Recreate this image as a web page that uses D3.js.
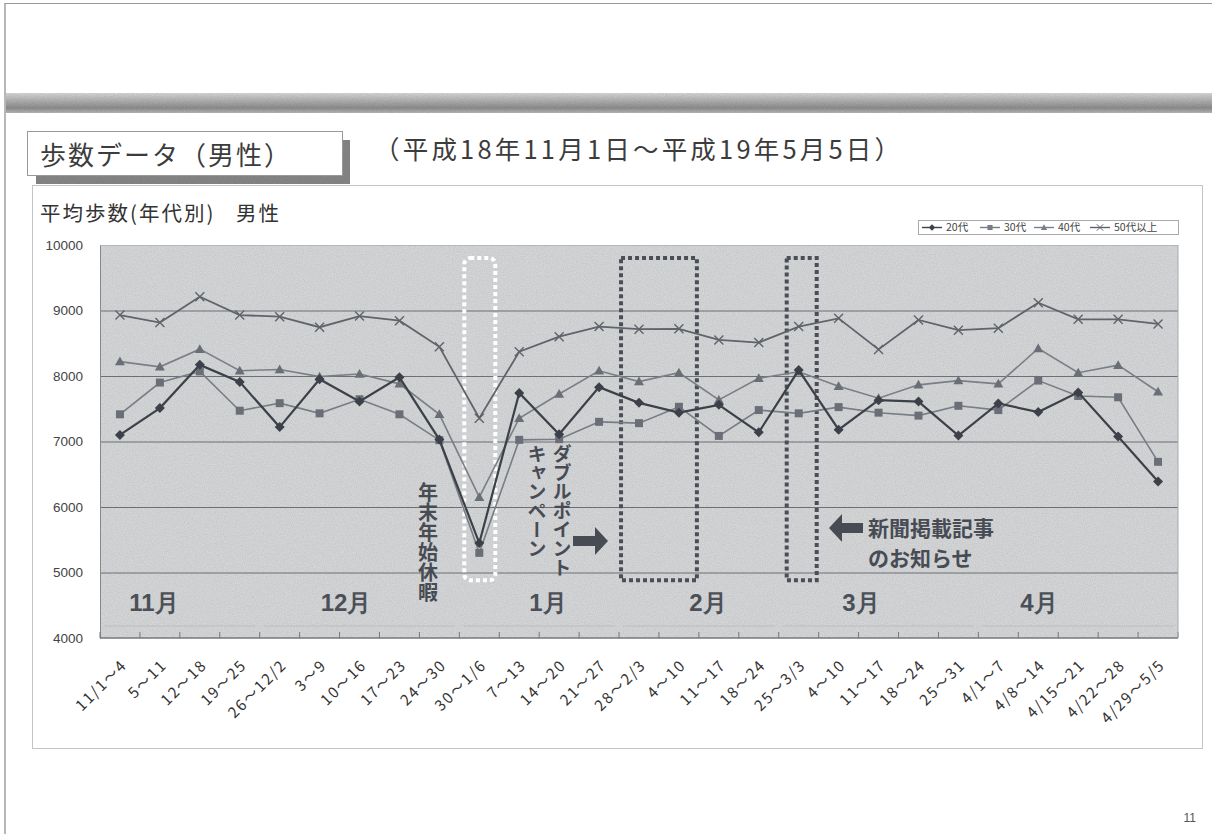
<!DOCTYPE html>
<html lang="ja">
<head>
<meta charset="utf-8">
<title>平均歩数(年代別) 男性</title>
<script src="https://cdn.jsdelivr.net/npm/d3@7/dist/d3.min.js"></script>
<style>
  html, body { margin: 0; padding: 0; background: #fff; }
  svg { display: block; }
  text { font-family: "Noto Sans CJK JP", "Noto Sans", sans-serif; }
  .num { font-family: "Liberation Sans", Arial, sans-serif; }
</style>
</head>
<body>
<svg id="slide" width="1212" height="834"></svg>
<script>
// Weekly periods (2006/11/1 – 2007/5/5)
const periods = ["11/1～4","5～11","12～18","19～25","26～12/2","3～9","10～16","17～23","24～30",
  "30～1/6","7～13","14～20","21～27","28～2/3","4～10","11～17","18～24","25～3/3","4～10",
  "11～17","18～24","25～31","4/1～7","4/8～14","4/15～21","4/22～28","4/29～5/5"];

// Average steps per age group
const age20 = [7100,7510,8170,7910,7220,7950,7610,7980,7030,5450,7740,7110,7830,7590,7440,7560,7140,
  8090,7180,7630,7610,7090,7580,7450,7750,7075,6390];
const age30 = [7415,7900,8070,7470,7585,7430,7645,7415,7020,5300,7025,7035,7300,7280,7530,7085,7480,
  7430,7525,7440,7395,7545,7480,7930,7695,7675,6690];
const age40 = [8220,8140,8410,8080,8100,7990,8030,7880,7415,6150,7355,7725,8080,7915,8050,7635,7965,
  8065,7845,7660,7865,7930,7880,8420,8050,8165,7760];
const age50 = [8930,8815,9210,8930,8905,8745,8915,8845,8445,7355,8370,8600,8755,8715,8720,8550,8510,
  8755,8880,8405,8855,8700,8730,9120,8865,8865,8795];

const seriesNames = ["20代","30代","40代","50代以上"];
const yTicks = [4000,5000,6000,7000,8000,9000,10000];
const months = [
  {label:"11月", from:0, to:3},
  {label:"12月", from:4, to:8},
  {label:"1月",  from:9, to:12},
  {label:"2月",  from:13, to:16},
  {label:"3月",  from:17, to:21},
  {label:"4月",  from:22, to:26}
];

const svg = d3.select("#slide");
const W = 1212, H = 834;

// ---- defs: grain + header gradient ----
const defs = svg.append("defs");
const grain = defs.append("filter").attr("id","grain").attr("x",0).attr("y",0).attr("width","100%").attr("height","100%");
grain.append("feTurbulence").attr("type","fractalNoise").attr("baseFrequency",0.9).attr("numOctaves",2).attr("seed",3).attr("result","n");
grain.append("feColorMatrix").attr("in","n").attr("type","matrix")
  .attr("values","0 0 0 0 0  0 0 0 0 0  0 0 0 0 0  0 0 0 0.25 0").attr("result","a");
grain.append("feComposite").attr("in","a").attr("in2","SourceGraphic").attr("operator","in").attr("result","g");
grain.append("feMerge").call(m => { m.append("feMergeNode").attr("in","SourceGraphic"); m.append("feMergeNode").attr("in","g"); });

const band = defs.append("linearGradient").attr("id","band").attr("x1",0).attr("y1",0).attr("x2",0).attr("y2",1);
[[0,"#dcdcdc"],[0.35,"#b8b8b8"],[0.75,"#909090"],[1,"#bcbcbc"]].forEach(([o,c]) =>
  band.append("stop").attr("offset",o).attr("stop-color",c));

// ---- slide frame ----
svg.append("line").attr("x1",5).attr("x2",5).attr("y1",3).attr("y2",H).attr("stroke","#888").attr("stroke-width",1.2);
svg.append("line").attr("x1",5).attr("x2",W).attr("y1",3.5).attr("y2",3.5).attr("stroke","#999").attr("stroke-width",1);
svg.append("rect").attr("x",6).attr("y",93).attr("width",W-6).attr("height",20)
  .attr("fill","url(#band)").attr("filter","url(#grain)");

// ---- section heading box ----
svg.append("rect").attr("x",36).attr("y",140).attr("width",314).attr("height",44).attr("fill","#8a8a8a").attr("filter","url(#grain)");
svg.append("rect").attr("x",27.5).attr("y",131.5).attr("width",315).attr("height",44)
  .attr("fill","#fff").attr("stroke","#999").attr("stroke-width",1);
svg.append("text").attr("x",40).attr("y",165).attr("font-size",26).attr("letter-spacing",2).attr("fill","#3c3c3c")
  .text("歩数データ（男性）");
svg.append("text").attr("x",374).attr("y",159).attr("font-size",25.5).attr("letter-spacing",3.2).attr("fill","#3c3c3c")
  .text("（平成18年11月1日～平成19年5月5日）");

// ---- chart frame ----
svg.append("rect").attr("x",32.5).attr("y",185.5).attr("width",1170).attr("height",563)
  .attr("fill","#fff").attr("stroke","#c4c4c4").attr("stroke-width",1);
const ctitle = svg.append("text").attr("y",221).attr("font-size",20.5).attr("letter-spacing",2).attr("fill","#333");
ctitle.append("tspan").attr("x",40).text("平均歩数(年代別)");
ctitle.append("tspan").attr("x",236).text("男性");

// ---- scales ----
const plot = {left:100, right:1178, top:245, bottom:638};
const x = d3.scaleBand().domain(d3.range(periods.length)).range([plot.left, plot.right]);
const cx = i => x(i) + x.bandwidth()/2;
const y = d3.scaleLinear().domain([4000,10000]).range([plot.bottom, plot.top]);

// plot background
svg.append("rect").attr("x",plot.left).attr("y",plot.top)
  .attr("width",plot.right-plot.left).attr("height",plot.bottom-plot.top)
  .attr("fill","#dcdddf").attr("filter","url(#grain)");

// gridlines
svg.append("g").attr("transform",`translate(${plot.left},0)`)
  .call(d3.axisLeft(y).tickValues(yTicks.slice(1)).tickSize(-(plot.right-plot.left)).tickFormat(""))
  .call(g => g.select(".domain").remove())
  .call(g => g.selectAll("line").attr("stroke",d => d === 10000 ? "#b5b7ba" : "#6d6f72").attr("stroke-width",1));

// y axis labels
svg.append("g").attr("transform",`translate(${plot.left},0)`)
  .call(d3.axisLeft(y).tickValues(yTicks).tickSize(0).tickPadding(17).tickFormat(d3.format("d")))
  .call(g => g.select(".domain").attr("stroke","#888"))
  .call(g => g.selectAll("text").attr("class","num").attr("font-size",13.5).attr("fill","#444"));

// x axis: tick marks at band boundaries, labels rotated
const xAxis = svg.append("g").attr("transform",`translate(0,${plot.bottom})`);
xAxis.append("line").attr("x1",plot.left).attr("x2",plot.right).attr("stroke","#777").attr("stroke-width",1.5);
xAxis.selectAll("line.tk").data(d3.range(periods.length+1)).join("line").attr("class","tk")
  .attr("x1",i => i < periods.length ? x(i) : plot.right).attr("x2",i => i < periods.length ? x(i) : plot.right)
  .attr("y1",0).attr("y2",-6).attr("stroke","#777");
xAxis.selectAll("text").data(periods).join("text")
  .attr("transform",(d,i) => `translate(${cx(i)+8},${28}) rotate(-45)`)
  .attr("text-anchor","end").attr("font-size",15).attr("letter-spacing",1.8).attr("fill","#333")
  .text(d => d);
svg.append("line").attr("x1",plot.right).attr("x2",plot.right).attr("y1",plot.top).attr("y2",plot.bottom).attr("stroke","#aaa");

// month labels with faint span lines
const monthG = svg.append("g");
months.forEach(m => {
  const x0 = x(m.from) + 4, x1 = x(m.to) + x.bandwidth() - 4;
  monthG.append("line").attr("x1",x0).attr("x2",x1).attr("y1",626).attr("y2",626)
    .attr("stroke","#bcbec0").attr("stroke-width",1.2);
});
const monthLabelX = {"11月":154,"12月":346,"1月":548,"2月":708,"3月":861,"4月":1039};
months.forEach(m => {
  monthG.append("text").attr("class","num").attr("x",monthLabelX[m.label]).attr("y",611)
    .attr("text-anchor","middle").attr("font-size",24).attr("font-weight","bold").attr("fill","#4b5058")
    .text(m.label);
});

// ---- highlight boxes ----
const boxTop = y(9800), boxBot = y(4880);
svg.append("rect").attr("x",cx(9)-15).attr("y",boxTop).attr("width",31).attr("height",boxBot-boxTop)
  .attr("rx",6).attr("fill","none").attr("stroke","#fff").attr("stroke-width",4).attr("stroke-dasharray","4 3");
svg.append("rect").attr("x",x(13)+2).attr("y",boxTop).attr("width",x(15)-x(13)-4).attr("height",boxBot-boxTop)
  .attr("fill","none").attr("stroke","#4a4f57").attr("stroke-width",4).attr("stroke-dasharray","4 3");
svg.append("rect").attr("x",cx(17)-12).attr("y",boxTop).attr("width",30).attr("height",boxBot-boxTop)
  .attr("fill","none").attr("stroke","#4a4f57").attr("stroke-width",4).attr("stroke-dasharray","4 3");

// ---- series ----
const series = [
  {name:seriesNames[0], values:age20, color:"#3c4149", width:2.2, marker:"diamond"},
  {name:seriesNames[1], values:age30, color:"#787d85", width:1.6, marker:"square"},
  {name:seriesNames[2], values:age40, color:"#7a7f86", width:1.6, marker:"triangle"},
  {name:seriesNames[3], values:age50, color:"#5f646b", width:1.8, marker:"cross"}
];
const markerPath = (type, s) => {
  switch(type) {
    case "diamond": return `M0,${-s}L${s},0L0,${s}L${-s},0Z`;
    case "square": return `M${-s*0.8},${-s*0.8}h${s*1.6}v${s*1.6}h${-s*1.6}Z`;
    case "triangle": return `M0,${-s}L${s},${s*0.75}L${-s},${s*0.75}Z`;
    case "cross": return `M${-s},${-s}L${s},${s}M${-s},${s}L${s},${-s}`;
  }
};
const line = d3.line().x((d,i) => cx(i)).y(d => y(d));
const seriesG = svg.append("g");
[3,2,1,0].forEach(k => {
  const s = series[k];
  const g = seriesG.append("g");
  g.append("path").attr("d",line(s.values)).attr("fill","none").attr("stroke",s.color).attr("stroke-width",s.width);
  g.selectAll("path.mk").data(s.values).join("path").attr("class","mk")
    .attr("transform",(d,i) => `translate(${cx(i)},${y(d)})`)
    .attr("d",markerPath(s.marker, s.marker === "cross" ? 4.5 : 5))
    .attr("fill",s.marker === "cross" ? "none" : (k === 0 ? "#3c4149" : "#6a6f77"))
    .attr("stroke",s.marker === "cross" ? s.color : "none").attr("stroke-width",1.4);
});

// ---- annotations ----
const ann = svg.append("g").attr("fill","#474c54").attr("font-weight","bold");
const vtext = (tx, ty, str, size) => ann.append("text").attr("x",tx).attr("y",ty)
  .style("writing-mode","vertical-rl").attr("font-size",size).text(str);
vtext(428, 482, "年末年始休暇", 20);
vtext(562, 444, "ダブルポイント", 19);
vtext(537, 444, "キャンペーン", 19);
// arrows
ann.append("path").attr("d","M573,536h22v-9l13,14l-13,14v-9h-22Z");
ann.append("path").attr("d","M863,523h-21v-9l-13,14l13,14v-9h21Z");
ann.append("text").attr("x",868).attr("y",536).attr("font-size",21).text("新聞掲載記事");
ann.append("text").attr("x",868).attr("y",566).attr("font-size",21).text("のお知らせ");

// ---- legend ----
const lg = svg.append("g").attr("transform","translate(918,220)");
lg.append("rect").attr("x",0.5).attr("y",0.5).attr("width",260).attr("height",14).attr("fill","#fff").attr("stroke","#aaa");
const lgX = [4, 62, 116, 172];
series.forEach((s,k) => {
  const it = lg.append("g").attr("transform",`translate(${lgX[k]},7.5)`);
  it.append("line").attr("x1",0).attr("x2",20).attr("stroke",s.color).attr("stroke-width",1.4);
  it.append("path").attr("transform","translate(10,0)").attr("d",markerPath(s.marker,3.2))
    .attr("fill",s.marker === "cross" ? "none" : s.color).attr("stroke",s.marker === "cross" ? s.color : "none");
  it.append("text").attr("x",24).attr("y",3.8).attr("font-size",10.5).attr("fill","#444").text(s.name);
});

// page number
svg.append("text").attr("class","num").attr("x",1196).attr("y",822).attr("text-anchor","end")
  .attr("font-size",12).attr("fill","#555").text("11");
</script>
</body>
</html>
